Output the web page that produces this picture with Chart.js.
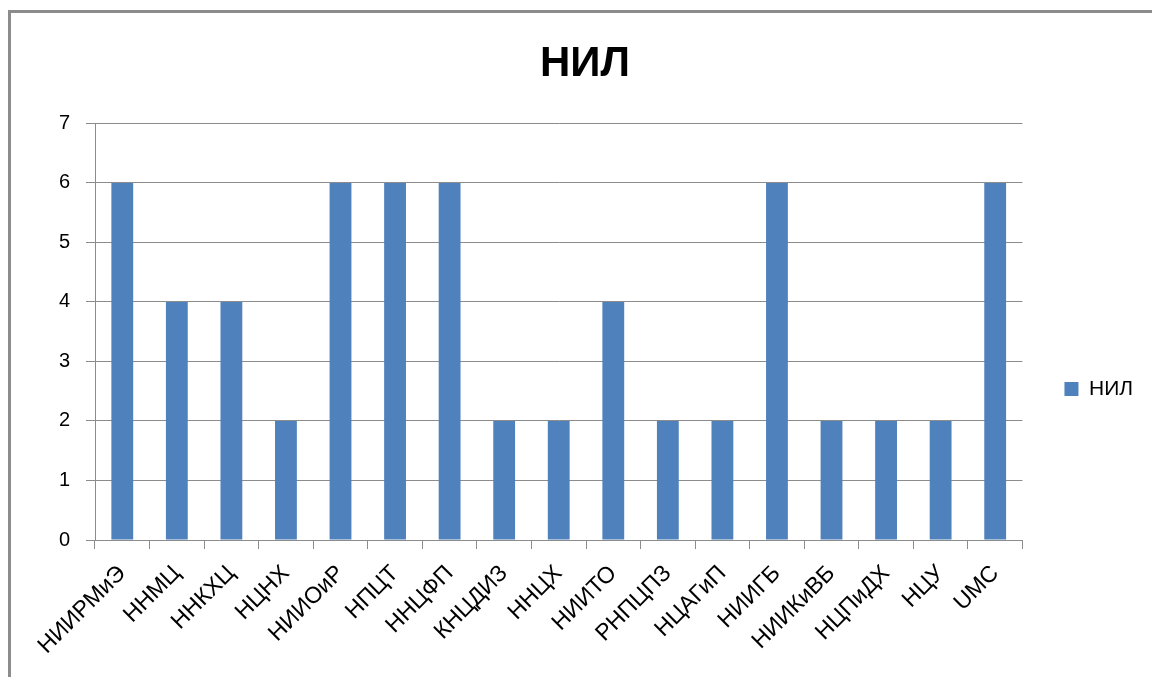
<!DOCTYPE html>
<html>
<head>
<meta charset="utf-8">
<script src="https://cdn.jsdelivr.net/npm/chart.js@4"></script>
<style>
  body { margin: 0; background: #fff; }
  #frame { position: absolute; left: 8px; top: 10px; width: 1200px; height: 700px; border: 3px solid #8c8c8c; }
  #chart { position: absolute; left: 0; top: 0; }
</style>
</head>
<body>
<div id="frame"></div>
<canvas id="chart" width="1152" height="677"></canvas>
<script>
// Данные графика
const categorias = ['НИИРМиЭ', 'ННМЦ', 'ННКХЦ', 'НЦНХ', 'НИИОиР', 'НПЦТ', 'ННЦФП', 'КНЦДИЗ', 'ННЦХ', 'НИИТО', 'РНПЦПЗ', 'НЦАГиП', 'НИИГБ', 'НИИКиВБ', 'НЦПиДХ', 'НЦУ', 'UMC'];
const valoresNil = [6, 4, 4, 2, 6, 6, 6, 2, 2, 4, 2, 2, 6, 2, 2, 2, 6];
const tituloGrafico = 'НИЛ';
const nomeSerie = 'НИЛ';

const cinza = '#8c8c8c';
const fonte = '"Liberation Sans", Arial, sans-serif';

function inicializarGrafico() {
    const ctx = document.getElementById('chart').getContext('2d');
    new Chart(ctx, {
        type: 'bar',
        data: {
            labels: categorias,
            datasets: [{
                label: nomeSerie,
                data: valoresNil,
                backgroundColor: '#4f81bd',
                borderWidth: 0,
                categoryPercentage: 1,
                barPercentage: 0.4
            }]
        },
        options: {
            responsive: false,
            animation: false,
            devicePixelRatio: 1,
            layout: { padding: { left: 27, right: 9, top: 0, bottom: 0 } },
            plugins: {
                title: {
                    display: true,
                    text: tituloGrafico,
                    color: '#000',
                    font: { family: fonte, size: 42, weight: 'bold' },
                    padding: { top: 39, bottom: 34 }
                },
                legend: {
                    position: 'right',
                    title: { display: true, text: ' ', font: { size: 1 }, padding: { top: 100, bottom: 0 } },
                    labels: {
                        color: '#000',
                        font: { family: fonte, size: 21 },
                        boxWidth: 14,
                        boxHeight: 14,
                        padding: 42
                    }
                },
                tooltip: { enabled: false }
            },
            scales: {
                x: {
                    grid: { offset: true, drawOnChartArea: false, color: cinza, tickLength: 9 },
                    border: { color: cinza },
                    ticks: {
                        color: '#000',
                        font: { family: fonte, size: 23 },
                        minRotation: 45,
                        maxRotation: 45,
                        autoSkip: false,
                        padding: 11
                    },
                    afterFit: (s) => { s.height = 137; }
                },
                y: {
                    min: 0,
                    max: 7,
                    grid: { color: cinza, tickLength: 9 },
                    border: { color: cinza },
                    ticks: {
                        stepSize: 1,
                        color: '#000',
                        font: { family: fonte, size: 20 },
                        padding: 16
                    },
                    afterFit: (s) => { s.width = 68; }
                }
            }
        }
    });
}

window.onload = inicializarGrafico;
</script>
</body>
</html>
